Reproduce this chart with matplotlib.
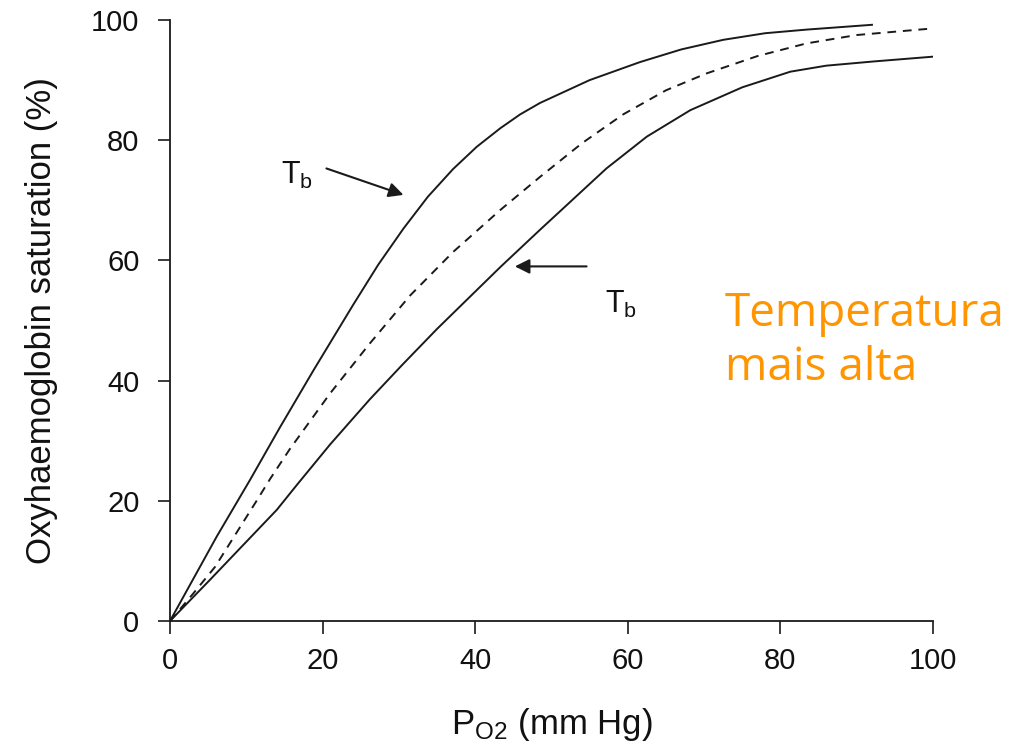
import matplotlib
matplotlib.use("Agg")
import matplotlib.pyplot as plt

# Data
upper_x = [0, 6.1, 10.5, 14.4, 18.8, 24.0, 27.3, 30.6, 33.8, 37.1, 40.2, 43.3, 45.9, 48.5, 55, 61.6, 67, 72.5, 78, 83.4, 92]
upper_y = [0, 14.0, 23.5, 32.2, 41.7, 52.6, 59.3, 65.3, 70.6, 75.2, 78.9, 82.0, 84.3, 86.2, 90.0, 93.0, 95.1, 96.7, 97.8, 98.4, 99.2]

mid_x = [0, 3, 5.9, 11.4, 13.1, 15.7, 21, 26.2, 31.5, 37.1, 43.3, 48.5, 54, 59.4, 65, 70.3, 77, 83.4, 90, 100]
mid_y = [0, 4.5, 9.0, 20.1, 23.6, 28.6, 37.9, 46.2, 54.2, 61.4, 68.4, 73.9, 79.5, 84.3, 88.3, 91.1, 94.0, 96.1, 97.5, 98.6]

lower_x = [0, 5.2, 14, 16.6, 21, 26.2, 30.5, 35, 43.3, 48.5, 57.2, 62.5, 68.2, 75, 81.3, 86, 92.2, 100]
lower_y = [0, 6.8, 18.5, 22.6, 29.4, 36.9, 42.7, 48.6, 58.9, 65.1, 75.3, 80.6, 85.0, 88.8, 91.4, 92.4, 93.1, 93.9]

x_ticks = [0, 20, 40, 60, 80, 100]
y_ticks = [0, 20, 40, 60, 80, 100]

plt.rcParams['font.family'] = ['Liberation Sans', 'DejaVu Sans']
plt.rcParams['mathtext.fontset'] = 'custom'
plt.rcParams['mathtext.rm'] = 'Liberation Sans'
plt.rcParams['mathtext.it'] = 'Liberation Sans'

fig = plt.figure(figsize=(10.1, 7.51), dpi=100)
W, H = 1010, 751
ax = fig.add_axes([170 / W, (H - 621) / H, (933 - 170) / W, (621 - 20) / H])

line_c = '#1a1a1a'
ax.plot(upper_x, upper_y, color=line_c, lw=1.4)
ax.plot(mid_x, mid_y, color=line_c, lw=1.4, linestyle=(0, (4.5, 3.5)))
ax.plot(lower_x, lower_y, color=line_c, lw=1.4)

ax.set_xlim(0, 100)
ax.set_ylim(0, 100)
ax.set_xticks(x_ticks)
ax.set_yticks(y_ticks)
ax.spines['top'].set_visible(False)
ax.spines['right'].set_visible(False)
for s in ('left', 'bottom'):
    ax.spines[s].set_linewidth(1.3)
    ax.spines[s].set_color(line_c)
ax.tick_params(axis='both', direction='out', length=9, width=1.2, color=line_c,
               labelsize=21, labelcolor='#111111')
ax.tick_params(axis='x', pad=10)
ax.tick_params(axis='y', pad=13)

ax.set_xlabel(r'P$_{\mathrm{O2}}$ (mm Hg)', fontsize=25, labelpad=22, color='#111111')
ax.set_ylabel('Oxyhaemoglobin saturation (%)', fontsize=25, labelpad=24, color='#111111')

# Arrows and labels
ax.annotate('', xy=(30.6, 70.9), xytext=(20.5, 75.3),
            arrowprops=dict(arrowstyle='-|>', color=line_c, lw=1.5, mutation_scale=22,
                            shrinkA=0, shrinkB=0))
ax.annotate('', xy=(45.2, 59.0), xytext=(54.6, 59.0),
            arrowprops=dict(arrowstyle='-|>', color=line_c, lw=1.5, mutation_scale=22,
                            shrinkA=0, shrinkB=0))
ax.text(14.6, 72.8, r'T$_{\mathrm{b}}$', fontsize=22, ha='left', va='baseline', color='#111111')
ax.text(57.0, 51.2, r'T$_{\mathrm{b}}$', fontsize=22, ha='left', va='baseline', color='#111111')

fig.text(725 / W, (H - 326) / H, 'Temperatura', fontsize=33, color='#FF9500',
         family=['Open Sans', 'DejaVu Sans'], ha='left', va='baseline')
fig.text(725 / W, (H - 380) / H, 'mais alta', fontsize=33, color='#FF9500',
         family=['Open Sans', 'DejaVu Sans'], ha='left', va='baseline')

fig.savefig('out.png', dpi=100)
